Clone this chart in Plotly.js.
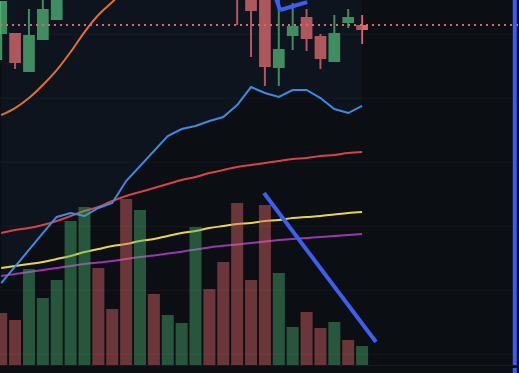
<!DOCTYPE html>
<html>
<head>
<meta charset="utf-8">
<script src="https://cdn.plot.ly/plotly-3.0.1.min.js"></script>
<style>html,body{margin:0;padding:0;background:#0b0e13;}#chart{width:519px;height:373px;}</style>
</head>
<body>
<div id="chart"></div>
<script>
// ---- data (index = bar number) ----
var idx = [0,1,2,3,4,5,6,7,8,9,10,11,12,13,14,15,16,17,18,19,20,21,22,23,24,25,26];
var openP  = [15.016,15.000,14.424,14.922,15.234,15.997,16.25,16.70,16.40,16.15,15.85,16.50,16.30,16.60,16.80,17.30,17.00,16.60,15.80,15.62,14.486,14.984,15.249,14.953,14.580,15.187,15.125];
var highP  = [15.498,15.000,15.389,15.763,16.230,16.35,16.80,16.85,16.55,16.30,16.60,16.65,16.70,16.90,17.40,17.40,17.10,16.70,15.95,15.70,15.607,15.483,15.389,15.000,15.296,15.389,15.296];
var lowP   = [14.595,14.455,14.424,14.922,15.234,15.80,16.15,16.30,16.05,15.70,15.80,16.20,16.25,16.50,16.70,16.90,16.50,15.140,14.642,14.190,14.190,14.751,14.735,14.455,14.580,15.093,14.844];
var closeP = [15.498,14.564,14.969,15.374,15.997,16.25,16.70,16.40,16.15,15.85,16.50,16.30,16.60,16.80,17.30,17.00,16.60,15.80,15.374,14.502,14.751,15.109,14.938,14.626,15.000,15.249,15.078];
var volume = [52,45,96,67,85,144,158,97,56,166,155,71,50,42,138,76,103,162,85,160,92,38,53,37,43,25,19];
var volUp  = [0,0,1,1,1,1,1,0,0,0,1,0,1,1,1,0,0,0,0,0,1,1,0,0,1,0,1];
var maBlue   = [11.121,11.371,11.636,11.900,12.150,12.212,12.165,12.290,12.368,12.710,12.944,13.178,13.411,13.520,13.567,13.645,13.707,13.894,14.174,14.081,14.019,14.128,14.128,14.003,13.832,13.769,13.879];
var maRed    = [11.900,11.947,11.978,12.025,12.087,12.165,12.243,12.305,12.399,12.477,12.539,12.601,12.664,12.726,12.773,12.835,12.882,12.928,12.960,12.991,13.022,13.053,13.069,13.100,13.115,13.146,13.162];
var maYellow = [11.355,11.386,11.417,11.449,11.495,11.542,11.604,11.651,11.698,11.729,11.776,11.807,11.854,11.900,11.931,11.978,12.009,12.040,12.056,12.087,12.103,12.134,12.150,12.165,12.189,12.212,12.227];
var maPurple = [11.231,11.262,11.293,11.324,11.355,11.386,11.417,11.440,11.464,11.495,11.526,11.550,11.580,11.610,11.645,11.675,11.700,11.722,11.745,11.768,11.791,11.807,11.822,11.838,11.854,11.869,11.885];
var bandUpperIdx = [0,1,2,3,4,5,6,7,8,9];
var bandUpper    = [13.738,13.847,14.003,14.206,14.439,14.720,15.031,15.296,15.498,15.717];
var alertLevel = 15.140;
var trendLineX = [18.93, 27.0];
var trendLineY = [12.523, 10.202];
var arrowArmA_X = [20.09, 19.6];
var arrowArmA_Y = [15.374, 15.68];
var arrowArmB_X = [20.09, 22.04];
var arrowArmB_Y = [15.374, 15.498];
var markerX = 37;

// ---- styles ----
var GREEN = '#4caf6e', RED = '#e0686a';
var yRange = [9.844, 15.530];

var fillX = idx.concat([idx[idx.length-1], idx[0]]);
var fillY = maBlue.concat([yRange[1] + 2, yRange[1] + 2]);
var smooth = {shape:'spline', smoothing:1.0};

var traces = [
  {type:'scatter', x:fillX, y:fillY, fill:'toself', fillcolor:'rgba(25,40,60,0.25)', line:{width:0}, mode:'lines', hoverinfo:'skip', showlegend:false},
  {type:'scatter', x:idx, y:maPurple, mode:'lines', line:Object.assign({color:'#9a36b0', width:2}, smooth), showlegend:false},
  {type:'scatter', x:idx, y:maYellow, mode:'lines', line:Object.assign({color:'#e6d54e', width:2}, smooth), showlegend:false},
  {type:'scatter', x:idx, y:maRed, mode:'lines', line:Object.assign({color:'#d8424a', width:2}, smooth), showlegend:false},
  {type:'scatter', x:bandUpperIdx, y:bandUpper, mode:'lines', line:Object.assign({color:'#e0702c', width:2}, smooth), showlegend:false},
  {type:'scatter', x:idx, y:maBlue, mode:'lines', line:{color:'#3d8be0', width:2}, showlegend:false},
  {type:'candlestick', x:idx, open:openP, high:highP, low:lowP, close:closeP,
   increasing:{line:{color:GREEN, width:2}, fillcolor:GREEN},
   decreasing:{line:{color:RED, width:2}, fillcolor:RED},
   whiskerwidth:0, showlegend:false},
  {type:'bar', x:idx, y:volume, yaxis:'y2',
   marker:{color:volUp.map(function(u){return u ? GREEN : RED;}), opacity:0.45, line:{width:0}},
   showlegend:false}
];

var shapes = [
  {type:'line', xref:'paper', x0:0, x1:1, yref:'y', y0:alertLevel, y1:alertLevel, layer:'above',
   line:{color:'#d9686a', width:2, dash:'2px,4px'}},
  {type:'line', xref:'x', yref:'y', x0:trendLineX[0], x1:trendLineX[1], y0:trendLineY[0], y1:trendLineY[1], layer:'above',
   line:{color:'#3d5ff0', width:4}},
  {type:'line', xref:'x', yref:'y', x0:arrowArmA_X[0], x1:arrowArmA_X[1], y0:arrowArmA_Y[0], y1:arrowArmA_Y[1], layer:'above',
   line:{color:'#3d5ff0', width:4}},
  {type:'line', xref:'x', yref:'y', x0:arrowArmB_X[0], x1:arrowArmB_X[1], y0:arrowArmB_Y[0], y1:arrowArmB_Y[1], layer:'above',
   line:{color:'#3d5ff0', width:4}},
  {type:'line', xref:'x', yref:'paper', x0:markerX, x1:markerX, y0:0, y1:1, layer:'above',
   line:{color:'#3d5cf5', width:4}},
  {type:'line', xref:'x', yref:'paper', x0:markerX, x1:markerX, y0:-3/365, y1:-8/365, layer:'above',
   line:{color:'#3d5cf5', width:4}}
];

var layout = {
  width:519, height:373,
  margin:{l:0, r:0, t:0, b:8, pad:0},
  paper_bgcolor:'#0b0e13', plot_bgcolor:'#0b0e13',
  showlegend:false,
  bargap:0.135,
  boxgap:0.3, boxgroupgap:0,
  xaxis:{range:[-0.0865, 37.305], showgrid:false, showticklabels:false, zeroline:false,
         showline:true, linecolor:'#161a20', linewidth:1, rangeslider:{visible:false}, fixedrange:true, ticks:''},
  yaxis:{range:yRange, tick0:10, dtick:1, gridcolor:'#12161c', gridwidth:1, showticklabels:false,
         zeroline:false, showline:false, fixedrange:true, ticks:''},
  yaxis2:{overlaying:'y', range:[0,365], showgrid:false, showticklabels:false, zeroline:false, fixedrange:true, ticks:''},
  shapes:shapes
};

Plotly.newPlot('chart', traces, layout, {displayModeBar:false, staticPlot:true});
</script>
</body>
</html>
